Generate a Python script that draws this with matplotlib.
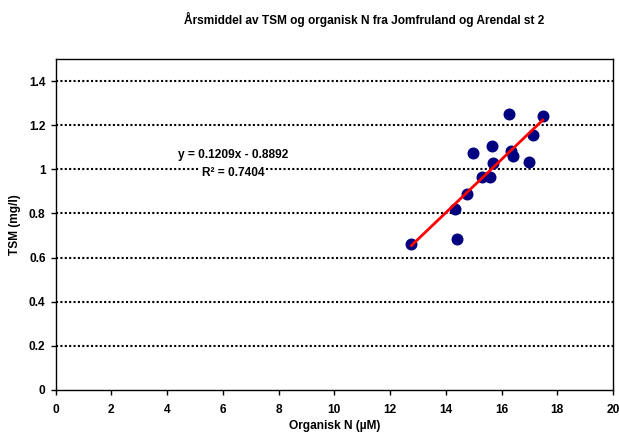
import numpy as np
import matplotlib.pyplot as plt

plt.rcParams['font.family'] = ['Liberation Sans', 'DejaVu Sans']
plt.rcParams['font.weight'] = 'bold'

# data
org_n = [12.77, 14.39, 14.33, 14.78, 15.30, 15.59, 15.69, 14.98, 15.65,
         16.27, 16.35, 16.42, 16.98, 17.14, 17.48]
tsm = [0.662, 0.684, 0.820, 0.888, 0.964, 0.964, 1.029, 1.075, 1.105,
       1.250, 1.082, 1.062, 1.034, 1.156, 1.243]
slope = 0.1209
intercept = -0.8892
r2 = 0.7404
xticks = [0, 2, 4, 6, 8, 10, 12, 14, 16, 18, 20]
yticks = [0, 0.2, 0.4, 0.6, 0.8, 1, 1.2, 1.4]

fs = 8.6

fig = plt.figure(figsize=(6.19, 4.34), dpi=100)
ax = fig.add_axes([55.5/619, 1-389.7/434, (613-55.5)/619, (389.7-59.3)/434])

for yv in yticks[1:]:
    ax.axhline(yv, color='black', lw=1.5, ls=(0, (1, 1.1)), zorder=1)

ax.scatter(org_n, tsm, s=58, color='#000080', zorder=3)

xl = np.array([min(org_n), max(org_n)])
ax.plot(xl, slope*xl + intercept, color='red', lw=2, zorder=4)

ax.text(233/619, 1-155/434, 'y = 0.1209x - 0.8892', transform=fig.transFigure,
        ha='center', va='center', fontsize=fs, fontweight='bold',
        bbox=dict(facecolor='white', edgecolor='none', pad=1))
ax.text(233/619, 1-173/434, 'R² = 0.7404', transform=fig.transFigure,
        ha='center', va='center', fontsize=fs, fontweight='bold',
        bbox=dict(facecolor='white', edgecolor='none', pad=1))

ax.set_xlim(0, 20)
ax.set_ylim(0, 1.5)
ax.set_xticks(xticks)
ax.set_yticks(yticks)
ax.set_xticklabels([str(v) for v in xticks])
ax.set_yticklabels(['0', '0.2', '0.4', '0.6', '0.8', '1', '1.2', '1.4'])
ax.tick_params(direction='out', length=3.6, width=1, labelsize=fs, pad=3.6)
ax.tick_params(axis='x', pad=6.5)
for sp in ax.spines.values():
    sp.set_linewidth(1)

ax.set_xlabel('Organisk N (µM)', fontsize=fs, fontweight='bold')
ax.set_ylabel('TSM (mg/l)', fontsize=fs, fontweight='bold')
ax.xaxis.set_label_coords(0.5, (389.7-426)/330.4, transform=ax.transAxes)
ax.yaxis.set_label_coords((15-55.5)/557.5, 0.5, transform=ax.transAxes)
ax.xaxis.label.set_va('center')
ax.yaxis.label.set_va('center')

fig.text(364.5/619, 1-19/434, 'Årsmiddel av TSM og organisk N fra Jomfruland og Arendal st 2',
         ha='center', va='center', fontsize=fs, fontweight='bold')

fig.savefig('out.png', dpi=100)
